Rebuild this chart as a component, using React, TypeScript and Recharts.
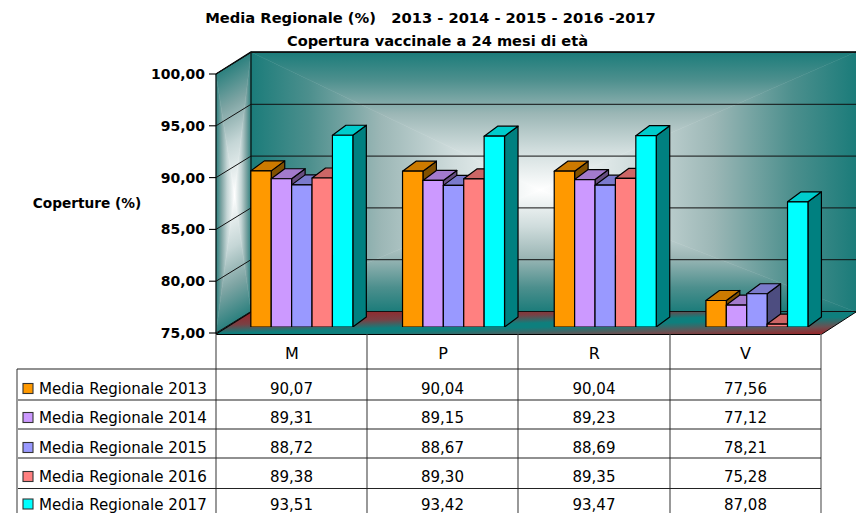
import React from "react";
import { BarChart, Bar, XAxis, YAxis, CartesianGrid } from "recharts";

const categories = ["M", "P", "R", "V"];
const seriesNames = [
  "Media Regionale 2013",
  "Media Regionale 2014",
  "Media Regionale 2015",
  "Media Regionale 2016",
  "Media Regionale 2017",
];
const values2013 = [90.07, 90.04, 90.04, 77.56];
const values2014 = [89.31, 89.15, 89.23, 77.12];
const values2015 = [88.72, 88.67, 88.69, 78.21];
const values2016 = [89.38, 89.3, 89.35, 75.28];
const values2017 = [93.51, 93.42, 93.47, 87.08];
const allValues = [values2013, values2014, values2015, values2016, values2017];
const yTicks = [75, 80, 85, 90, 95, 100];

const faceColors = ["#FF9900", "#CC99FF", "#9999FF", "#FF8080", "#00FFFF"];
const topColors = ["#CC7A00", "#A37ACC", "#7A7ACC", "#CC6666", "#00CCCC"];
const sideColors = ["#805000", "#664D80", "#4D4D80", "#804040", "#008080"];

const W = 856;
const H = 513;
const FONT = "'DejaVu Sans', sans-serif";
const FRONT_X = 216;
const BACK_X = 251;
const RIGHT_X = 856;
const FRONT_DX = -10;
const FRONT_DY = 6;
const BACK_DY = -15.5;
const BAR_DX = 13.5;
const BAR_DY = -10;
const BAR_W = 20.4;

const wallStops: [number, string][] = [
  [0, "#1B7C7A"],
  [0.2, "#4C8F8D"],
  [0.45, "#9CB7B6"],
  [0.7, "#CFDCDC"],
  [1, "#FFFFFF"],
];
const sideStops: [number, string][] = [
  [0, "#2B807E"],
  [0.3, "#7FA5A4"],
  [0.6, "#C5D6D6"],
  [1, "#FFFFFF"],
];

const rows = categories.map((c, i) => ({
  name: c,
  s0: values2013[i],
  s1: values2014[i],
  s2: values2015[i],
  s3: values2016[i],
  s4: values2017[i],
}));

const fmt = (v: number) => v.toFixed(2).replace(".", ",");

type P = [number, number];

function PathGradient({ id, corners, center, stops }: { id: string; corners: P[]; center: P; stops: [number, string][] }) {
  const items = corners.map((a, i) => {
    const b = corners[(i + 1) % corners.length];
    const ex = b[0] - a[0];
    const ey = b[1] - a[1];
    const t = ((center[0] - a[0]) * ex + (center[1] - a[1]) * ey) / (ex * ex + ey * ey);
    const fx = a[0] + t * ex;
    const fy = a[1] + t * ey;
    return { a, b, fx, fy, gid: `${id}-${i}` };
  });
  return (
    <g>
      <defs>
        {items.map((it) => (
          <linearGradient key={it.gid} id={it.gid} gradientUnits="userSpaceOnUse" x1={it.fx} y1={it.fy} x2={center[0]} y2={center[1]}>
            {stops.map(([o, c]) => (
              <stop key={o} offset={o} stopColor={c} />
            ))}
          </linearGradient>
        ))}
      </defs>
      {items.map((it) => (
        <polygon
          key={it.gid}
          points={`${it.a[0]},${it.a[1]} ${it.b[0]},${it.b[1]} ${center[0]},${center[1]}`}
          fill={`url(#${it.gid})`}
          stroke={`url(#${it.gid})`}
          strokeWidth={0.5}
        />
      ))}
    </g>
  );
}

function Backdrop() {
  return (
    <svg width={W} height={H} style={{ position: "absolute", left: 0, top: 0 }}>
      <defs>
        <linearGradient id="floorGrad" gradientUnits="userSpaceOnUse" x1={535.3} y1={302} x2={536.7} y2={344}>
          <stop offset="0" stopColor="#9C2226" />
          <stop offset="0.3" stopColor="#7A4044" />
          <stop offset="0.5" stopColor="#0E7F7D" />
          <stop offset="0.6" stopColor="#0E7F7D" />
          <stop offset="0.82" stopColor="#6A5052" />
          <stop offset="1" stopColor="#9C2226" />
        </linearGradient>
      </defs>
      <PathGradient id="wall" corners={[[251, 52], [856, 52], [856, 312], [251, 312]]} center={[540, 190]} stops={wallStops} />
      <PathGradient id="side" corners={[[216, 74], [251, 52], [251, 312], [216, 333]]} center={[234.5, 195]} stops={sideStops} />
      <polygon points="216,334 251,312 856,312 822,334" fill="url(#floorGrad)" />
      <polyline points="216,74 251,52 856,52" fill="none" stroke="#000" strokeWidth={1.3} />
      <line x1={BACK_X} y1={52} x2={BACK_X} y2={312} stroke="#000" strokeWidth={1.1} />
      <line x1={FRONT_X} y1={74} x2={FRONT_X} y2={334} stroke="#000" strokeWidth={1.1} />
      <polyline points="216,334 251,312" fill="none" stroke="#000" strokeWidth={1.2} />
      <line x1={856} y1={312} x2={822} y2={334} stroke="#000" strokeWidth={1} />
    </svg>
  );
}

const colX = [216, 367, 518, 670, 821];
const rowY = [369, 400, 429, 458, 488.5];
const rowTextY = [389.5, 418.5, 448.5, 477.5, 505];

function Overlay() {
  return (
    <svg width={W} height={H} style={{ position: "absolute", left: 0, top: 0, pointerEvents: "none" }} fontFamily={FONT}>
      <text x={430.5} y={23} textAnchor="middle" fontSize={14.7} fontWeight={700} fill="#000" style={{ whiteSpace: "pre" }}>
        {"Media Regionale (%)   2013 - 2014 - 2015 - 2016 -2017"}
      </text>
      <text x={437.5} y={46} textAnchor="middle" fontSize={14.6} fontWeight={700} fill="#000">
        Copertura vaccinale a 24 mesi di età
      </text>
      <text x={87} y={208} textAnchor="middle" fontSize={13.7} fontWeight={700} fill="#000">
        Coperture (%)
      </text>

      <line x1={216} y1={334.5} x2={822} y2={334.5} stroke="#000" strokeWidth={1.2} />
      {colX.map((x, i) => (
        <line key={x} x1={x} y1={334} x2={x} y2={H} stroke={i === 4 ? "#777" : "#444"} strokeWidth={i === 4 ? 1.4 : 1.1} />
      ))}
      <line x1={17} y1={369} x2={17} y2={H} stroke="#444" strokeWidth={1.1} />
      {rowY.map((y, i) => (
        <line key={y} x1={i === 0 ? 17 : 18} y1={y} x2={821} y2={y} stroke="#222" strokeWidth={1.1} />
      ))}

      {seriesNames.map((name, r) => (
        <g key={name}>
          <rect x={23} y={rowTextY[r] - 6} width={10} height={10} fill={faceColors[r]} stroke="#333" strokeWidth={1.1} />
          <text x={39} y={rowTextY[r] + 4.5} fontSize={15.1} fill="#000">
            {name}
          </text>
          {allValues[r].map((v, c) => (
            <text key={c} x={(colX[c] + colX[c + 1]) / 2} y={rowTextY[r] + 4.5} fontSize={15} textAnchor="middle" fill="#000">
              {fmt(v)}
            </text>
          ))}
        </g>
      ))}
    </svg>
  );
}

function makeBarShape(si: number) {
  return function BarShape(props: any) {
    const { x: rawX, y, width, height } = props;
    if (width == null || height == null) return null;
    const x = rawX - 0.2 + si * (BAR_W - width);
    const r = x + BAR_W;
    const b = y + height;
    return (
      <g stroke="#000" strokeWidth={1.2} strokeLinejoin="round">
        <polygon
          points={`${r},${y} ${r + BAR_DX},${y + BAR_DY} ${r + BAR_DX},${b + BAR_DY} ${r},${b}`}
          fill={sideColors[si]}
        />
        <polygon
          points={`${x},${y} ${x + BAR_DX},${y + BAR_DY} ${r + BAR_DX},${y + BAR_DY} ${r},${y}`}
          fill={topColors[si]}
        />
        <rect x={x} y={y} width={BAR_W} height={height} fill={faceColors[si]} />
      </g>
    );
  };
}

function YTick(props: any) {
  const { y, payload } = props;
  const fy = y + FRONT_DY;
  return (
    <g>
      <line x1={FRONT_X - 7} y1={fy} x2={FRONT_X} y2={fy} stroke="#000" strokeWidth={1.1} />
      <text x={205} y={fy + 5} textAnchor="end" fontSize={14} fontWeight={700} fontFamily={FONT} fill="#000">
        {fmt(payload.value)}
      </text>
    </g>
  );
}

function XTick(props: any) {
  const { x, index, payload } = props;
  return (
    <text x={x + FRONT_DX - (index || 0) * 0.5} y={359} textAnchor="middle" fontSize={16} fontFamily={FONT} fill="#000">
      {payload.value}
    </text>
  );
}

function gridLine(props: any) {
  const { y1, index } = props;
  const fy = y1 + FRONT_DY;
  const by = y1 + BACK_DY;
  return (
    <polyline
      key={`g-${index}-${y1}`}
      points={`${FRONT_X},${fy} ${BACK_X},${by} ${RIGHT_X},${by}`}
      fill="none"
      stroke="#111"
      strokeWidth={1}
    />
  );
}

export default function App() {
  return (
    <div style={{ position: "absolute", left: 0, top: 0, width: W, height: H, overflow: "hidden", background: "#fff" }}>
      <Backdrop />
      <div style={{ position: "absolute", left: 0, top: 0 }}>
        <BarChart
          width={W}
          height={H}
          data={rows}
          margin={{ top: 68, right: 23.2, bottom: 156, left: 0 }}
          barGap={0}
          barCategoryGap="16.5%"
        >
          <CartesianGrid horizontal={gridLine as any} vertical={false} />
          <XAxis dataKey="name" height={30} axisLine={false} tickLine={false} tick={<XTick />} interval={0} />
          <YAxis
            width={226}
            domain={[75, 100]}
            ticks={yTicks}
            allowDataOverflow
            axisLine={false}
            tickLine={false}
            tick={<YTick />}
            interval={0}
          />
          {allValues.map((_, i) => (
            <Bar key={i} dataKey={`s${i}`} name={seriesNames[i]} fill={faceColors[i]} isAnimationActive={false} shape={makeBarShape(i)} />
          ))}
        </BarChart>
      </div>
      <Overlay />
    </div>
  );
}
